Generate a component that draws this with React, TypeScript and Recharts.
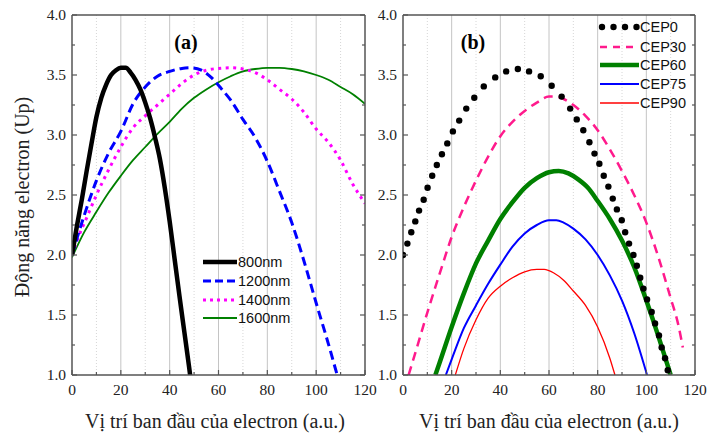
import { LineChart, Line, XAxis, YAxis, CartesianGrid } from 'recharts';

const AXIS = '#555';
const SERIF = '"Liberation Serif", "Times New Roman", serif';
const SANS = '"Liberation Sans", Arial, sans-serif';

const xTicks = [0, 10, 20, 30, 40, 50, 60, 70, 80, 90, 100, 110, 120];
const yTicks = [1, 1.25, 1.5, 1.75, 2, 2.25, 2.5, 2.75, 3, 3.25, 3.5, 3.75, 4];
const majorGridX = [20, 40, 60, 80, 100];
const minorGridX = [10, 30, 50, 70, 90, 110];

// panel (a): wavelength dependence
const x800 = [0, 2, 4, 6, 8, 10, 12, 14, 16, 18, 20, 22, 24, 26, 28, 30, 32, 34, 36, 38, 40, 42, 44, 46, 48, 49];
const y800 = [2.0, 2.24, 2.46, 2.7, 2.93, 3.15, 3.31, 3.42, 3.5, 3.54, 3.56, 3.56, 3.52, 3.46, 3.38, 3.27, 3.14, 2.98, 2.8, 2.56, 2.28, 1.97, 1.66, 1.36, 1.06, 0.9];

const x1200 = [0, 5, 10, 15, 20, 25, 30, 35, 40, 45, 49, 53, 57, 61, 65, 70, 75, 80, 85, 90, 95, 100, 105, 108.6, 110];
const y1200 = [2.0, 2.33, 2.62, 2.85, 3.03, 3.26, 3.4, 3.49, 3.53, 3.555, 3.56, 3.54, 3.48, 3.39, 3.29, 3.13, 2.98, 2.78, 2.53, 2.27, 1.95, 1.6, 1.26, 1.0, 0.9];

const x1400 = [0, 3, 6, 10, 15, 20, 25, 30, 35, 40, 45, 50, 55, 60, 65, 70, 75, 80, 85, 90, 95, 100, 105, 110, 115, 120];
const y1400 = [2.0, 2.17, 2.31, 2.5, 2.71, 2.9, 3.06, 3.16, 3.25, 3.34, 3.43, 3.5, 3.54, 3.555, 3.56, 3.55, 3.52, 3.46, 3.38, 3.3, 3.19, 3.05, 2.94, 2.79, 2.59, 2.43];

const x1600 = [0, 5, 10, 15, 20, 25, 30, 35, 40, 45, 50, 55, 60, 65, 70, 75, 80, 85, 90, 95, 100, 105, 110, 115, 120];
const y1600 = [1.98, 2.19, 2.36, 2.52, 2.66, 2.79, 2.9, 3.01, 3.11, 3.22, 3.31, 3.38, 3.44, 3.49, 3.53, 3.55, 3.56, 3.56, 3.55, 3.53, 3.5, 3.46, 3.4, 3.34, 3.26];

// panel (b): CEP dependence
const xCep0 = [0, 1.8, 3.4, 5.05, 6.6, 8.5, 10.1, 12, 13.9, 16, 18.2, 20.5, 23.1, 26, 29.3, 33.2, 37.9, 42.4, 47.2, 51.8, 56.6, 61.1, 65.2, 68.7, 71.4, 74.1, 76.6, 78.7, 80.7, 82.5, 84.4, 86.2, 87.9, 89.9, 91.3, 92.9, 94.7, 96.1, 97.5, 98.8, 100.3, 102.2, 103.6, 105.2, 106.3, 107.7, 108.8];
const yCep0 = [2.0, 2.095, 2.19, 2.28, 2.37, 2.46, 2.56, 2.66, 2.75, 2.84, 2.93, 3.03, 3.12, 3.22, 3.31, 3.405, 3.48, 3.53, 3.55, 3.53, 3.49, 3.41, 3.32, 3.22, 3.13, 3.04, 2.94, 2.845, 2.76, 2.66, 2.57, 2.47, 2.38, 2.29, 2.19, 2.095, 2.0, 1.91, 1.81, 1.72, 1.63, 1.525, 1.43, 1.33, 1.23, 1.14, 1.04];

const xCep30 = [2.3, 5, 10, 15, 20, 25, 30, 35, 40, 45, 50, 55, 60, 63, 66, 70, 75, 80, 85, 90, 95, 100, 105, 110, 113, 115];
const yCep30 = [1.0, 1.18, 1.52, 1.84, 2.15, 2.4, 2.62, 2.82, 2.99, 3.11, 3.2, 3.27, 3.32, 3.32, 3.3, 3.25, 3.16, 3.04, 2.88, 2.7, 2.5, 2.27, 1.98, 1.64, 1.43, 1.23];

const xCep60 = [13.3, 15, 20, 25, 30, 35, 40, 45, 50, 55, 60, 64, 68, 72, 76, 80, 85, 90, 95, 100, 105, 110];
const yCep60 = [1.0, 1.1, 1.4, 1.68, 1.93, 2.12, 2.3, 2.44, 2.56, 2.64, 2.69, 2.7, 2.68, 2.63, 2.56, 2.45, 2.3, 2.12, 1.9, 1.62, 1.32, 1.0];

const xCep75 = [17.6, 20, 25, 30, 35, 40, 45, 50, 55, 60, 63, 66, 70, 75, 80, 85, 90, 95, 100.3];
const yCep75 = [1.0, 1.13, 1.39, 1.58, 1.76, 1.92, 2.07, 2.18, 2.25, 2.29, 2.29, 2.27, 2.22, 2.13, 2.0, 1.83, 1.62, 1.35, 1.0];

const xCep90 = [21.5, 25, 30, 35, 40, 45, 50, 55, 58, 62, 66, 70, 75, 80, 85, 87.1];
const yCep90 = [1.0, 1.22, 1.46, 1.64, 1.74, 1.81, 1.86, 1.88, 1.88, 1.85, 1.79, 1.7, 1.58, 1.4, 1.14, 1.0];

const zip = (xs: number[], ys: number[]) => xs.map((x, i) => ({ x, y: ys[i] }));

const isMajorX = (v: number) => v % 20 === 0;
const isMajorY = (v: number) => Math.abs(v * 2 - Math.round(v * 2)) < 1e-6;

function BottomTick({ x, y, payload }: any) {
  const v = payload.value;
  const major = isMajorX(v);
  return (
    <g>
      <line x1={x} x2={x} y1={y} y2={y - (major ? 5 : 3)} stroke={AXIS} strokeWidth={1.2} />
      {major && (
        <text x={x} y={y + 20} textAnchor="middle" fontSize={15.5} fontFamily={SERIF} fill="#222">
          {v}
        </text>
      )}
    </g>
  );
}

function TopTick({ x, y, payload }: any) {
  const major = isMajorX(payload.value);
  return <line x1={x} x2={x} y1={y} y2={y + (major ? 5 : 3)} stroke={AXIS} strokeWidth={1.2} />;
}

function LeftTick({ x, y, payload }: any) {
  const v = payload.value;
  const major = isMajorY(v);
  return (
    <g>
      <line x1={x} x2={x + (major ? 5 : 3)} y1={y} y2={y} stroke={AXIS} strokeWidth={1.2} />
      {major && (
        <text x={x - 6} y={y + 5} textAnchor="end" fontSize={15.5} fontFamily={SERIF} fill="#222">
          {v.toFixed(1)}
        </text>
      )}
    </g>
  );
}

function RightTick({ x, y, payload }: any) {
  const major = isMajorY(payload.value);
  return <line x1={x} x2={x - (major ? 5 : 3)} y1={y} y2={y} stroke={AXIS} strokeWidth={1.2} />;
}

function Panel({ width, left, right, children }: any) {
  const axisLine = { stroke: AXIS, strokeWidth: 1.5 };
  return (
    <LineChart width={width} height={436} margin={{ top: 10, right, bottom: 31, left }}>
      <CartesianGrid horizontal={false} verticalValues={minorGridX} stroke="#d6d6d6" strokeDasharray="1 2" />
      <CartesianGrid horizontal={false} verticalValues={majorGridX} stroke="#c4c4c4" />
      <XAxis type="number" dataKey="x" domain={[0, 120]} ticks={xTicks} interval={0} allowDataOverflow
        tickSize={0} tickMargin={0} tickLine={false} axisLine={axisLine} tick={BottomTick} height={30} />
      <XAxis xAxisId="top" orientation="top" type="number" domain={[0, 120]} ticks={xTicks} interval={0} allowDataOverflow
        tickSize={0} tickMargin={0} tickLine={false} axisLine={axisLine} tick={TopTick} height={5} />
      <YAxis type="number" domain={[1, 4]} ticks={yTicks} interval={0} allowDataOverflow
        tickSize={0} tickMargin={0} tickLine={false} axisLine={axisLine} tick={LeftTick} width={40} />
      <YAxis yAxisId="right" orientation="right" type="number" domain={[1, 4]} ticks={yTicks} interval={0} allowDataOverflow
        tickSize={0} tickMargin={0} tickLine={false} axisLine={axisLine} tick={RightTick} width={5} />
      {children}
    </LineChart>
  );
}

function LegendRow({ top, left, sw, text, children }: any) {
  return (
    <div style={{ position: 'absolute', left, top: top - 9, height: 18, display: 'flex', alignItems: 'center' }}>
      <svg width={sw} height={18} style={{ display: 'block' }}>{children}</svg>
      <span style={{ fontFamily: SANS, fontSize: 14.5, color: '#111', lineHeight: '18px' }}>{text}</span>
    </div>
  );
}

const titleStyle: any = { position: 'absolute', width: 52, textAlign: 'center', fontFamily: SERIF, fontWeight: 'bold', fontSize: 20, lineHeight: '24px' };
const xLabelStyle: any = { position: 'absolute', top: 409, width: 360, textAlign: 'center', fontFamily: SERIF, fontSize: 20, lineHeight: '24px', color: '#222', whiteSpace: 'nowrap' };

export default function App() {
  return (
    <div style={{ position: 'absolute', left: 0, top: 0, width: 707, height: 436, background: '#fff', overflow: 'hidden' }}>
      <div style={{ position: 'absolute', left: 0, top: 0 }}>
        <Panel width={385} left={32} right={15}>
          <Line data={zip(x1600, y1600)} dataKey="y" type="monotone" stroke="#008000" strokeWidth={1.8} dot={false} isAnimationActive={false} />
          <Line data={zip(x1400, y1400)} dataKey="y" type="monotone" stroke="#ff00ff" strokeWidth={3} strokeDasharray="3 4.5" dot={false} isAnimationActive={false} />
          <Line data={zip(x1200, y1200)} dataKey="y" type="monotone" stroke="#0000ff" strokeWidth={3} strokeDasharray="9 5" dot={false} isAnimationActive={false} />
          <Line data={zip(x800, y800)} dataKey="y" type="monotone" stroke="#000" strokeWidth={4.5} dot={false} isAnimationActive={false} />
        </Panel>
      </div>
      <div style={{ position: 'absolute', left: 330, top: 0 }}>
        <Panel width={377} left={33} right={7}>
          <Line data={zip(xCep30, yCep30)} dataKey="y" type="monotone" stroke="#ff1a8c" strokeWidth={2.5} strokeDasharray="9 6" dot={false} isAnimationActive={false} />
          <Line data={zip(xCep60, yCep60)} dataKey="y" type="monotone" stroke="#008000" strokeWidth={4.5} dot={false} isAnimationActive={false} />
          <Line data={zip(xCep75, yCep75)} dataKey="y" type="monotone" stroke="#0000ff" strokeWidth={2} dot={false} isAnimationActive={false} />
          <Line data={zip(xCep90, yCep90)} dataKey="y" type="monotone" stroke="#ff0000" strokeWidth={1.3} dot={false} isAnimationActive={false} />
          <Line data={zip(xCep0, yCep0)} dataKey="y" type="linear" stroke="none" dot={{ r: 3.2, fill: '#000', stroke: 'none' }} isAnimationActive={false} />
        </Panel>
      </div>

      <div style={{ ...titleStyle, left: 160, top: 30 }}>(a)</div>
      <div style={{ ...titleStyle, left: 447, top: 30 }}>(b)</div>

      <div style={{ position: 'absolute', left: 22 - 150, top: 197 - 12, width: 300, height: 24, textAlign: 'center', transform: 'rotate(-90deg)', fontFamily: SERIF, fontSize: 20, lineHeight: '24px', color: '#222', whiteSpace: 'nowrap' }}>Động năng electron (Up)</div>
      <div style={{ ...xLabelStyle, left: 215 - 180 }}>Vị trí ban đầu của electron (a.u.)</div>
      <div style={{ ...xLabelStyle, left: 549 - 180 }}>Vị trí ban đầu của electron (a.u.)</div>

      <LegendRow top={262} left={202} sw={36} text="800nm">
        <line x1={1} x2={35} y1={9} y2={9} stroke="#000" strokeWidth={4.5} />
      </LegendRow>
      <LegendRow top={281} left={202} sw={36} text="1200nm">
        <line x1={1} x2={35} y1={9} y2={9} stroke="#0000ff" strokeWidth={3} strokeDasharray="8 4" />
      </LegendRow>
      <LegendRow top={300} left={202} sw={36} text="1400nm">
        <line x1={1} x2={35} y1={9} y2={9} stroke="#ff00ff" strokeWidth={3} strokeDasharray="3 4" />
      </LegendRow>
      <LegendRow top={318} left={202} sw={36} text="1600nm">
        <line x1={1} x2={35} y1={9} y2={9} stroke="#008000" strokeWidth={1.8} />
      </LegendRow>

      <LegendRow top={27} left={598} sw={42} text="CEP0">
        <circle cx={4} cy={9} r={3.2} fill="#000" />
        <circle cx={15.5} cy={9} r={3.2} fill="#000" />
        <circle cx={27} cy={9} r={3.2} fill="#000" />
        <circle cx={38.5} cy={9} r={3.2} fill="#000" />
      </LegendRow>
      <LegendRow top={46.5} left={598} sw={42} text="CEP30">
        <line x1={2} x2={40} y1={9} y2={9} stroke="#ff1a8c" strokeWidth={2.5} strokeDasharray="7 6" />
      </LegendRow>
      <LegendRow top={65} left={598} sw={42} text="CEP60">
        <line x1={2} x2={41} y1={9} y2={9} stroke="#008000" strokeWidth={4.5} />
      </LegendRow>
      <LegendRow top={83.5} left={598} sw={42} text="CEP75">
        <line x1={2} x2={41} y1={9} y2={9} stroke="#0000ff" strokeWidth={2} />
      </LegendRow>
      <LegendRow top={103} left={598} sw={42} text="CEP90">
        <line x1={2} x2={41} y1={9} y2={9} stroke="#ff0000" strokeWidth={1.3} />
      </LegendRow>
    </div>
  );
}
